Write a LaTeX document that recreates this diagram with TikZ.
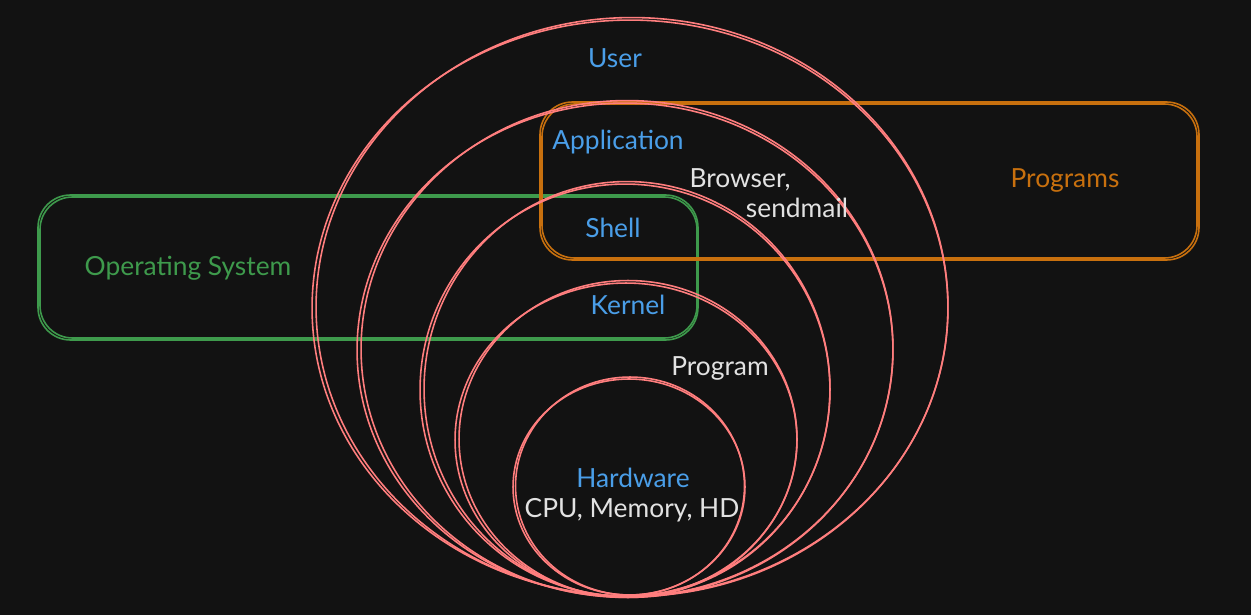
\documentclass[tikz,border=0pt]{standalone}
\usepackage{fontspec}
\setmainfont{Lato}
\definecolor{bg}{HTML}{121212}
\definecolor{ring}{HTML}{FF7E7E}
\definecolor{lblue}{HTML}{4A9EE8}
\definecolor{lgreen}{HTML}{3E9A4C}
\definecolor{lorange}{HTML}{C8700E}
\definecolor{lwhite}{HTML}{E2E2E2}
\tikzset{
  ring/.style={draw=ring, line width=0.9pt},
  box/.style={line width=0.9pt, rounded corners=0.65cm},
  lbl/.style={font=\fontsize{15}{18}\selectfont, inner sep=1pt},
}
\begin{document}
\begin{tikzpicture}[x=0.02cm, y=-0.02cm]
      \fill[bg] (0,0) rectangle (1251,615);
      \useasboundingbox (0,0) rectangle (1251,615);
      % boxes
      \draw[box, draw=lgreen] (38,195) rectangle (698,340);
      \draw[box, draw=lgreen] (40,197) rectangle (697,338);
      \draw[box, draw=lorange] (540,102) rectangle (1199,260);
      \draw[box, draw=lorange] (542,104) rectangle (1197,258);
      % rings
      \draw[ring] (630,308) ellipse [x radius=6.36cm, y radius=5.76cm];
      \draw[ring] (632,307) ellipse [x radius=6.32cm, y radius=5.79cm];
      \draw[ring] (625,350) ellipse [x radius=5.36cm, y radius=4.94cm];
      \draw[ring] (627,349) ellipse [x radius=5.32cm, y radius=4.97cm];
      \draw[ring] (625,390) ellipse [x radius=4.10cm, y radius=4.12cm];
      \draw[ring] (627,389) ellipse [x radius=4.06cm, y radius=4.15cm];
      \draw[ring] (626,440) ellipse [x radius=3.42cm, y radius=3.14cm];
      \draw[ring] (628,439) ellipse [x radius=3.38cm, y radius=3.17cm];
      \draw[ring] (629,487) ellipse [x radius=2.32cm, y radius=2.16cm];
      \draw[ring] (630,486) ellipse [x radius=2.29cm, y radius=2.18cm];
      % labels
      \node[lbl, text=lblue] (user) at (615,58) {User};
      \node[lbl, text=lblue] (app) at (618,142) {Application};
      \node[lbl, text=lwhite] (browser) at (740,180) {Browser,};
      \node[lbl, text=lwhite] (sendmail) at (797,208) {sendmail};
      \node[lbl, text=lorange] (programs) at (1065,180) {Programs};
      \node[lbl, text=lblue] (shell) at (613,228) {Shell};
      \node[lbl, text=lgreen] (os) at (188,268) {Operating System};
      \node[lbl, text=lblue] (kernel) at (628,305) {Kernel};
      \node[lbl, text=lwhite] (program) at (720,368) {Program};
      \node[lbl, text=lblue] (hw) at (633,478) {Hardware};
      \node[lbl, text=lwhite] (cpu) at (632,510) {CPU, Memory, HD};
\end{tikzpicture}
\end{document}
